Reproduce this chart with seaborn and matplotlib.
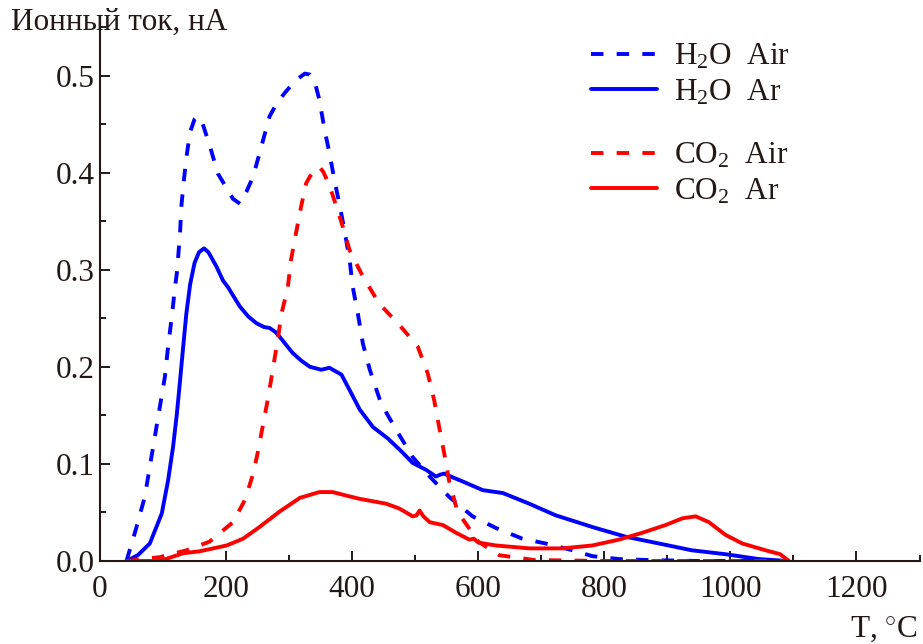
import numpy as np
import pandas as pd
import matplotlib
matplotlib.use("Agg")
import matplotlib.pyplot as plt
import seaborn as sns
from matplotlib.ticker import MultipleLocator, FixedLocator, FixedFormatter

# ---- data: ion current (nA) vs temperature (°C) ----
h2o_air_t = [42, 58, 71, 79, 87, 95, 103, 108, 114, 119, 122, 127, 129, 133, 138, 143, 150, 155,
             162, 174, 187, 200, 211, 222, 232, 243, 256, 269, 281, 293, 310, 325, 333, 340, 348,
             356, 364, 372, 380, 388, 396, 401, 409, 417, 428, 446, 470, 496, 523, 554, 591, 628,
             670, 707, 750, 781, 823, 870, 950, 1050, 1090]
h2o_air_i = [0, 0.035, 0.066, 0.097, 0.128, 0.159, 0.19, 0.221, 0.252, 0.282, 0.297, 0.338, 0.365,
             0.392, 0.42, 0.442, 0.455, 0.458, 0.452, 0.428, 0.399, 0.385, 0.373, 0.368, 0.38, 0.396,
             0.427, 0.458, 0.472, 0.482, 0.495, 0.502, 0.501, 0.495, 0.475, 0.445, 0.42, 0.392, 0.367,
             0.34, 0.31, 0.282, 0.255, 0.224, 0.197, 0.162, 0.135, 0.107, 0.087, 0.066, 0.046, 0.034,
             0.023, 0.018, 0.011, 0.005, 0.002, 0.001, 0, 0, 0]

h2o_ar_t = [42, 60, 79, 98, 108, 116, 122, 127, 132, 137, 143, 150, 157, 165, 172, 185, 195, 203,
            222, 235, 248, 260, 269, 278, 285, 296, 306, 320, 333, 351, 364, 372, 383, 396, 412, 433,
            457, 478, 496, 517, 533, 540, 546, 560, 575, 607, 639, 681, 723, 757, 781, 834, 887, 939,
            992, 1045, 1090]
h2o_ar_i = [0, 0.006, 0.018, 0.049, 0.083, 0.118, 0.152, 0.186, 0.221, 0.255, 0.285, 0.307, 0.318,
            0.322, 0.318, 0.303, 0.289, 0.282, 0.262, 0.252, 0.245, 0.241, 0.24, 0.236, 0.231, 0.222,
            0.214, 0.206, 0.2, 0.197, 0.199, 0.196, 0.192, 0.176, 0.156, 0.138, 0.126, 0.113, 0.101,
            0.094, 0.087, 0.089, 0.09, 0.086, 0.082, 0.073, 0.07, 0.059, 0.047, 0.04, 0.035, 0.025,
            0.018, 0.011, 0.007, 0.002, 0]

co2_air_t = [42, 95, 137, 174, 211, 230, 243, 251, 259, 267, 274, 282, 288, 298, 303, 311, 319, 327,
             333, 340, 348, 354, 362, 369, 383, 396, 417, 443, 475, 504, 520, 530, 538, 546, 554, 567,
             600, 633, 689, 800, 1000, 1090]
co2_air_i = [0, 0.004, 0.011, 0.02, 0.04, 0.063, 0.09, 0.114, 0.142, 0.169, 0.197, 0.228, 0.255,
             0.282, 0.31, 0.338, 0.365, 0.389, 0.396, 0.402, 0.406, 0.401, 0.39, 0.377, 0.349, 0.32,
             0.293, 0.265, 0.243, 0.221, 0.193, 0.166, 0.138, 0.111, 0.082, 0.051, 0.02, 0.006, 0.001,
             0, 0, 0]

co2_ar_t = [42, 95, 132, 158, 201, 227, 253, 285, 317, 348, 369, 393, 412, 454, 475, 496, 502, 507,
            513, 523, 544, 565, 586, 593, 600, 628, 681, 734, 781, 823, 860, 897, 924, 945, 966, 992,
            1019, 1056, 1079, 1093]
co2_ar_i = [0, 0, 0.008, 0.01, 0.016, 0.023, 0.035, 0.051, 0.065, 0.071, 0.071, 0.067, 0.064, 0.059,
            0.054, 0.046, 0.047, 0.052, 0.046, 0.04, 0.037, 0.029, 0.022, 0.023, 0.019, 0.016, 0.013,
            0.013, 0.016, 0.022, 0.029, 0.037, 0.044, 0.046, 0.04, 0.027, 0.018, 0.011, 0.007, 0]

x_ticks = [0, 200, 400, 600, 800, 1000, 1200]
y_ticks = [0.0, 0.1, 0.2, 0.3, 0.4, 0.5]
y_tick_labels = ["0.0", "0.1", "0.2", "0.3", "0.4", "0.5"]

ink = "#231815"
blue = "#0000ff"
red = "#ff0000"

sns.set_theme(style="ticks")
plt.rcParams["font.family"] = ["Liberation Serif", "DejaVu Serif"]
plt.rcParams["mathtext.fontset"] = "custom"
plt.rcParams["mathtext.rm"] = "Liberation Serif"
plt.rcParams["mathtext.it"] = "Liberation Serif:italic"
plt.rcParams["mathtext.bf"] = "Liberation Serif:bold"
plt.rcParams["text.color"] = ink
plt.rcParams["axes.edgecolor"] = ink
plt.rcParams["xtick.color"] = ink
plt.rcParams["ytick.color"] = ink

FS = 22.5

fig = plt.figure(figsize=(9.23, 6.44), dpi=100)
ax = fig.add_axes([100 / 923, 1 - 561 / 644, 819.5 / 923, 534 / 644])

series = [
    (h2o_air_t, h2o_air_i, blue, (0, (3.2, 3.4)), r"H$_2$O  Air"),
    (h2o_ar_t, h2o_ar_i, blue, "-", r"H$_2$O  Ar"),
    (co2_air_t, co2_air_i, red, (0, (3.2, 3.4)), r"CO$_2$  Air"),
    (co2_ar_t, co2_ar_i, red, "-", r"CO$_2$  Ar"),
]
lines = []
for t, i, c, ls, lab in series:
    sns.lineplot(x=t, y=i, ax=ax, color=c, linestyle=ls, linewidth=2.8,
                 estimator=None, sort=False, label=lab, legend=False,
                 solid_joinstyle="round", dash_joinstyle="round")
    lines.append(ax.get_lines()[-1])

ax.set_xlim(0, 1300)
ax.set_ylim(0, 0.55)
sns.despine(ax=ax)
for s in ("left", "bottom"):
    ax.spines[s].set_linewidth(1.5)

ax.xaxis.set_major_locator(FixedLocator(x_ticks))
ax.xaxis.set_minor_locator(MultipleLocator(100))
ax.yaxis.set_major_locator(FixedLocator(y_ticks))
ax.yaxis.set_major_formatter(FixedFormatter(y_tick_labels))
ax.yaxis.set_minor_locator(MultipleLocator(0.05))
ax.tick_params(axis="both", which="major", direction="in", length=7.5, width=1.4,
               labelsize=FS, colors=ink)
ax.tick_params(axis="both", which="minor", direction="in", length=4, width=1.4, colors=ink)
ax.tick_params(axis="x", which="major", pad=10)
ax.tick_params(axis="y", which="major", pad=4)
ax.set_xlabel("")
ax.set_ylabel("")

fig.text(11 / 923, 1 - 22 / 644, "Ионный ток, нА", fontsize=FS, ha="left", va="center")
fig.text(918 / 923, 1 - 637 / 644, r"T, $^{\circ}$C", fontsize=FS, ha="right", va="baseline")

leg_kw = dict(loc="upper left", frameon=False, fontsize=FS, handlelength=2.12,
              handletextpad=0.55, labelspacing=0.2, borderpad=0, borderaxespad=0)
leg1 = fig.legend(handles=lines[:2], labels=[s[4] for s in series[:2]],
                  bbox_to_anchor=(591 / 923, 1 - 42 / 644), **leg_kw)
leg2 = fig.legend(handles=lines[2:], labels=[s[4] for s in series[2:]],
                  bbox_to_anchor=(591 / 923, 1 - 141 / 644), **leg_kw)

fig.savefig("out.png", dpi=100)
